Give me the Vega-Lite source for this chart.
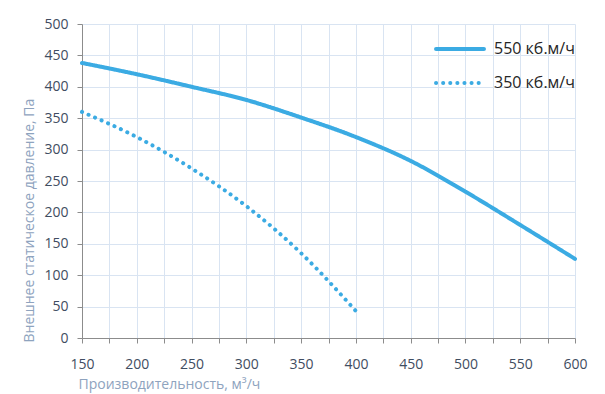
{
  "$schema": "https://vega.github.io/schema/vega-lite/v6.json",
  "autosize": "none",
  "width": 493,
  "height": 314,
  "padding": {"left": 82, "top": 24, "right": 30, "bottom": 56},
  "background": "white",
  "config": {"view": {"stroke": null}, "font": "Open Sans"},
  "data": {"values": [
    {"q": 150, "p": 438, "s": "550 кб.м/ч"},
    {"q": 200, "p": 420, "s": "550 кб.м/ч"},
    {"q": 250, "p": 400, "s": "550 кб.м/ч"},
    {"q": 300, "p": 379, "s": "550 кб.м/ч"},
    {"q": 350, "p": 351, "s": "550 кб.м/ч"},
    {"q": 400, "p": 320, "s": "550 кб.м/ч"},
    {"q": 450, "p": 282, "s": "550 кб.м/ч"},
    {"q": 500, "p": 233, "s": "550 кб.м/ч"},
    {"q": 550, "p": 180, "s": "550 кб.м/ч"},
    {"q": 600, "p": 126, "s": "550 кб.м/ч"},
    {"q": 150, "p": 360, "s": "350 кб.м/ч"},
    {"q": 200, "p": 320, "s": "350 кб.м/ч"},
    {"q": 250, "p": 270, "s": "350 кб.м/ч"},
    {"q": 300, "p": 210, "s": "350 кб.м/ч"},
    {"q": 350, "p": 135, "s": "350 кб.м/ч"},
    {"q": 400, "p": 43, "s": "350 кб.м/ч"}
  ]},
  "mark": {"type": "line", "color": "#3BABE3", "strokeWidth": 4, "strokeCap": "round", "interpolate": "monotone"},
  "encoding": {
    "x": {
      "field": "q", "type": "quantitative",
      "scale": {"domain": [150, 600], "nice": false, "zero": false},
      "axis": {
        "title": "Производительность, м³/ч",
        "titleAnchor": "start", "titleX": -4, "titleY": 46, "titleAlign": "left", "titleBaseline": "middle",
        "titleFont": "Open Sans", "titleFontSize": 14, "titleFontWeight": "normal", "titleColor": "#8EA3BE",
        "values": [150, 175, 200, 225, 250, 275, 300, 325, 350, 375, 400, 425, 450, 475, 500, 525, 550, 575, 600],
        "labelExpr": "datum.value % 50 === 0 ? datum.label : ''",
        "labelFlush": false, "labelOverlap": false,
        "labelFontSize": 14, "labelColor": "#3F4D61", "labelPadding": 14,
        "domainColor": "#8C8C8C", "tickColor": "#8C8C8C", "tickSize": 5,
        "gridColor": "#D9E4F2", "gridWidth": 1
      }
    },
    "y": {
      "field": "p", "type": "quantitative",
      "scale": {"domain": [0, 500], "nice": false},
      "axis": {
        "title": "Внешнее  статическое  давление, Па",
        "titleAnchor": "start", "titleAlign": "left", "titleX": -46, "titleY": 318,
        "titleFont": "Open Sans", "titleFontSize": 14, "titleFontWeight": "normal", "titleColor": "#8EA3BE",
        "values": [0, 50, 100, 150, 200, 250, 300, 350, 400, 450, 500],
        "labelFlush": false, "labelOverlap": false,
        "labelFontSize": 14, "labelColor": "#3F4D61", "labelPadding": 9,
        "domainColor": "#8C8C8C", "tickColor": "#8C8C8C", "tickSize": 5,
        "gridColor": "#D9E4F2", "gridWidth": 1
      }
    },
    "strokeDash": {
      "field": "s", "type": "nominal",
      "scale": {"domain": ["550 кб.м/ч", "350 кб.м/ч"], "range": [[1, 0], [0.1, 7]]},
      "legend": {
        "title": null, "orient": "none", "legendX": 352, "legendY": -1,
        "symbolType": "stroke", "symbolSize": 2300, "symbolStrokeWidth": 4,
        "symbolStrokeColor": "#3BABE3",
        "labelFontSize": 16, "labelColor": "#262626", "labelOffset": 8,
        "rowPadding": 0,
        "encode": {"symbols": {"update": {"strokeCap": {"value": "round"}}}}
      }
    }
  }
}
